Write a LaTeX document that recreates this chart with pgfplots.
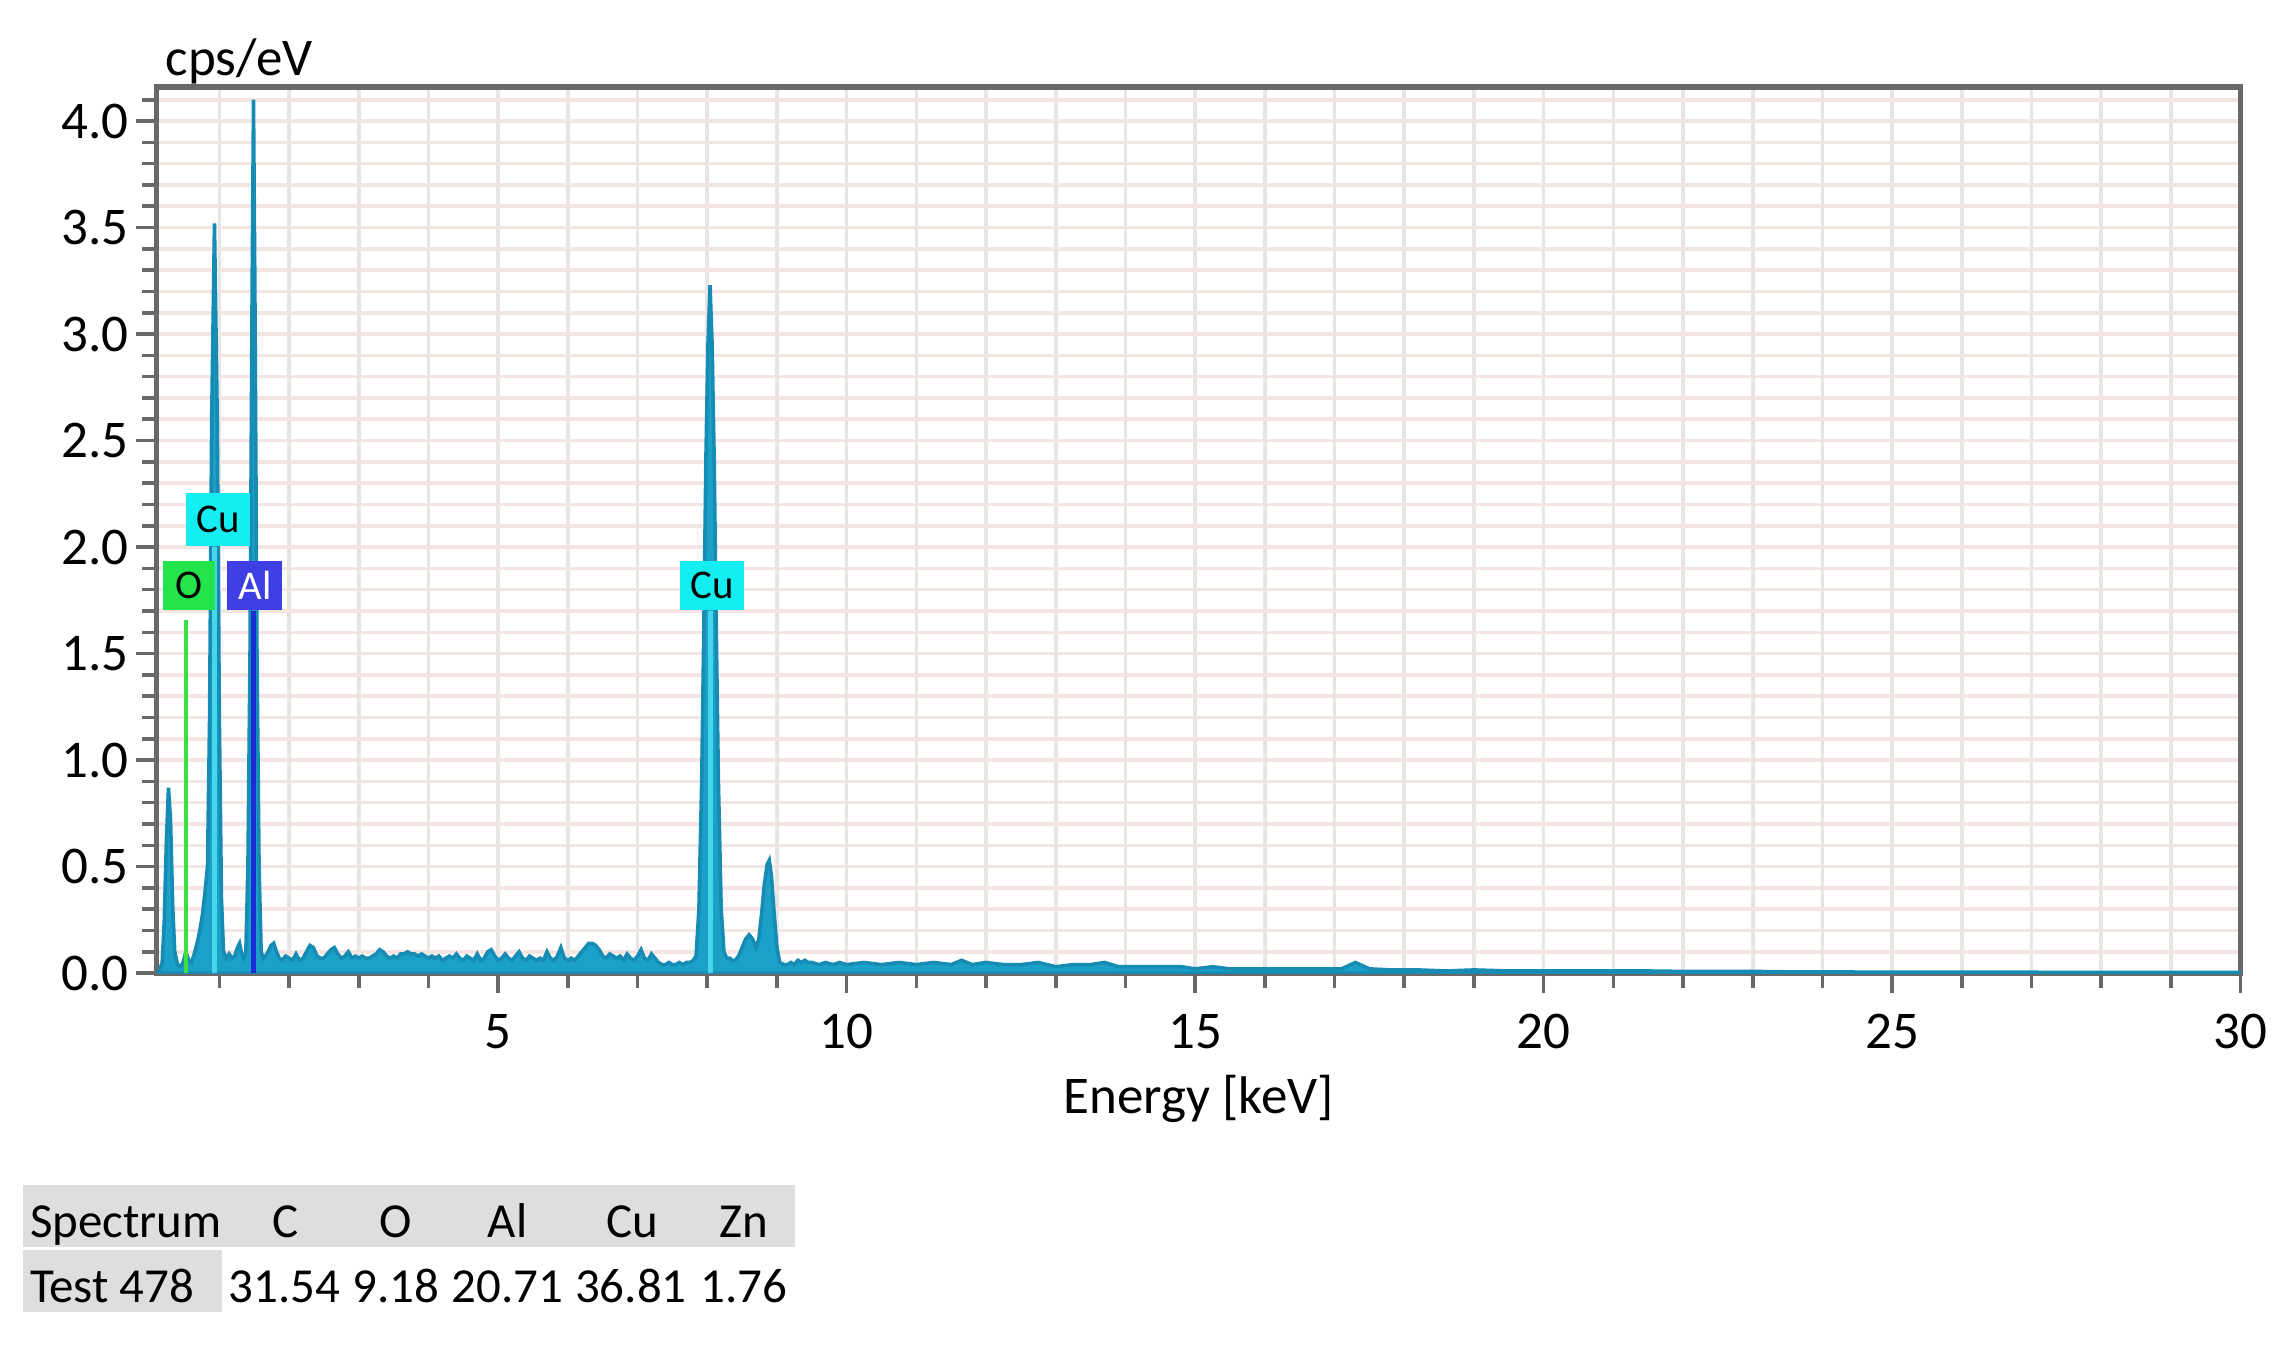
\documentclass[border=0pt]{standalone}
\usepackage{fontspec}
\setmainfont{Carlito}
\usepackage{pgfplots}
\pgfplotsset{compat=1.18}

\definecolor{spec}{RGB}{27,161,200}
\definecolor{specedge}{RGB}{22,140,180}
\definecolor{culine}{RGB}{70,215,235}
\definecolor{alline}{RGB}{25,45,215}
\definecolor{oline}{RGB}{60,225,60}
\definecolor{tagO}{RGB}{35,228,75}
\definecolor{tagAl}{RGB}{62,62,228}
\definecolor{tagCu}{RGB}{20,238,240}
\definecolor{gridx}{RGB}{232,230,228}
\definecolor{gridy}{RGB}{243,229,225}
\definecolor{axisgray}{RGB}{105,105,105}
\definecolor{tblgray}{RGB}{222,222,222}

\begin{document}
\begin{tikzpicture}
\useasboundingbox (-10.8mm,-25.9mm) rectangle (146.0mm,67.1mm);
\begin{axis}[
  scale only axis, width=143.7mm, height=61.1mm,
  xmin=0.1, xmax=30, ymin=0, ymax=4.16,
  xtick={5,10,...,30},
  minor xtick={1,2,3,4,6,7,8,9,11,12,13,14,16,17,18,19,21,22,23,24,26,27,28,29},
  ytick={0,0.5,...,4.0},
  minor ytick={0.1,0.2,0.3,0.4,0.6,0.7,0.8,0.9,1.1,1.2,1.3,1.4,1.6,1.7,1.8,1.9,2.1,2.2,2.3,2.4,2.6,2.7,2.8,2.9,3.1,3.2,3.3,3.4,3.6,3.7,3.8,3.9,4.1},
  tick pos=left, tick align=outside,
  major tick length=1.4mm, minor tick length=1mm,
  every tick/.style={draw=axisgray, line width=0.7pt},
  grid=both,
  x grid style={draw=gridx, line width=0.7pt},
  y grid style={draw=gridy, line width=0.7pt},
  axis line style={draw=axisgray, line width=1pt},
  tick label style={font=\fontsize{10.4}{12}\selectfont},
  /pgf/number format/assume math mode=true,
  yticklabel style={/pgf/number format/.cd, fixed, fixed zerofill, precision=1, /tikz/.cd, xshift=0.7mm},
  xticklabel style={yshift=-0.2mm},
  xlabel={Energy [keV]},
  xlabel style={font=\fontsize{10.4}{12}\selectfont, at={(rel axis cs:0.5,0)}, anchor=base, yshift=-9.7mm},
  ylabel={cps/eV},
  ylabel style={font=\fontsize{10.4}{12}\selectfont, rotate=-90, at={(rel axis cs:0,1)}, anchor=base west, xshift=-0.6mm, yshift=0.8mm},
]
% spectrum
\addplot[draw=specedge, line width=0.7pt, fill=spec] table {
0.10 0.00
0.14 0.01
0.18 0.05
0.21 0.25
0.24 0.62
0.27 0.87
0.30 0.72
0.33 0.32
0.36 0.10
0.40 0.04
0.44 0.03
0.48 0.05
0.52 0.10
0.56 0.06
0.60 0.05
0.64 0.09
0.68 0.14
0.72 0.20
0.76 0.28
0.80 0.40
0.83 0.50
0.86 1.20
0.89 2.60
0.93 3.52
0.97 2.60
1.00 1.20
1.03 0.35
1.06 0.10
1.10 0.07
1.14 0.09
1.18 0.07
1.22 0.08
1.26 0.12
1.29 0.14
1.32 0.09
1.35 0.07
1.38 0.10
1.41 0.50
1.44 1.50
1.47 3.20
1.49 4.10
1.51 3.20
1.54 1.50
1.57 0.50
1.60 0.10
1.63 0.07
1.66 0.08
1.70 0.10
1.74 0.13
1.78 0.14
1.82 0.10
1.86 0.07
1.90 0.06
1.95 0.08
2.00 0.07
2.05 0.06
2.10 0.09
2.15 0.06
2.20 0.07
2.25 0.10
2.30 0.13
2.35 0.12
2.40 0.08
2.45 0.07
2.50 0.07
2.55 0.09
2.60 0.11
2.65 0.12
2.70 0.09
2.75 0.07
2.80 0.08
2.85 0.10
2.90 0.07
2.95 0.08
3.00 0.07
3.05 0.08
3.10 0.07
3.15 0.07
3.20 0.08
3.25 0.09
3.30 0.11
3.35 0.10
3.40 0.08
3.45 0.07
3.50 0.08
3.55 0.07
3.60 0.09
3.65 0.09
3.70 0.10
3.75 0.09
3.80 0.09
3.85 0.08
3.90 0.09
3.95 0.08
4.00 0.07
4.05 0.08
4.10 0.07
4.15 0.08
4.20 0.06
4.25 0.07
4.30 0.08
4.35 0.07
4.40 0.09
4.45 0.07
4.50 0.06
4.55 0.08
4.60 0.07
4.65 0.06
4.70 0.09
4.75 0.06
4.80 0.07
4.85 0.10
4.90 0.11
4.95 0.08
5.00 0.06
5.05 0.07
5.10 0.09
5.15 0.07
5.20 0.06
5.25 0.08
5.30 0.10
5.35 0.07
5.40 0.06
5.45 0.08
5.50 0.07
5.55 0.06
5.60 0.07
5.65 0.06
5.70 0.10
5.75 0.07
5.80 0.06
5.85 0.08
5.90 0.12
5.95 0.07
6.00 0.06
6.05 0.07
6.10 0.06
6.15 0.08
6.20 0.10
6.25 0.12
6.30 0.14
6.35 0.14
6.40 0.13
6.45 0.11
6.50 0.08
6.55 0.07
6.60 0.09
6.65 0.08
6.70 0.07
6.75 0.08
6.80 0.06
6.85 0.09
6.90 0.07
6.95 0.06
7.00 0.08
7.05 0.11
7.10 0.07
7.15 0.06
7.20 0.09
7.25 0.07
7.30 0.05
7.35 0.04
7.40 0.04
7.45 0.05
7.50 0.04
7.55 0.04
7.60 0.05
7.65 0.04
7.70 0.05
7.75 0.05
7.80 0.06
7.84 0.08
7.88 0.30
7.92 0.90
7.95 1.60
7.98 2.40
8.01 2.95
8.04 3.23
8.07 2.95
8.10 2.40
8.13 1.60
8.16 0.90
8.20 0.30
8.24 0.10
8.28 0.07
8.32 0.07
8.36 0.06
8.40 0.06
8.45 0.08
8.50 0.12
8.55 0.16
8.60 0.18
8.65 0.16
8.70 0.12
8.74 0.16
8.78 0.28
8.82 0.42
8.86 0.51
8.89 0.53
8.92 0.46
8.96 0.28
9.00 0.12
9.04 0.05
9.10 0.04
9.15 0.04
9.20 0.05
9.25 0.04
9.30 0.06
9.35 0.05
9.40 0.06
9.45 0.05
9.50 0.05
9.60 0.04
9.70 0.05
9.80 0.04
9.90 0.05
10.00 0.04
10.25 0.05
10.50 0.04
10.75 0.05
11.00 0.04
11.25 0.05
11.50 0.04
11.65 0.06
11.80 0.04
12.00 0.05
12.25 0.04
12.50 0.04
12.75 0.05
13.00 0.03
13.25 0.04
13.50 0.04
13.70 0.05
13.90 0.03
14.20 0.03
14.50 0.03
14.80 0.03
15.00 0.02
15.25 0.03
15.50 0.02
15.75 0.02
16.00 0.02
16.30 0.02
16.60 0.02
16.90 0.02
17.10 0.02
17.30 0.05
17.50 0.02
17.80 0.015
18.20 0.015
18.60 0.01
19.00 0.015
19.50 0.01
20.00 0.01
20.50 0.01
21.00 0.01
21.50 0.01
22.00 0.008
22.50 0.008
23.00 0.008
23.50 0.006
24.00 0.006
24.50 0.005
25.00 0.005
26.00 0.004
27.00 0.004
28.00 0.003
29.00 0.003
30.00 0.003
} \closedcycle;
% element marker lines
\addplot[draw=oline, line width=0.8pt] coordinates {(0.525,0) (0.525,1.66)};
\addplot[draw=culine, line width=0.9pt] coordinates {(0.93,0) (0.93,2.0)};
\addplot[draw=alline, line width=0.9pt] coordinates {(1.49,0) (1.49,1.70)};
\addplot[draw=culine, line width=0.9pt] coordinates {(8.05,0) (8.05,1.70)};
% element tags
\node[fill=tagCu, minimum width=4.4mm, minimum height=3.6mm, inner sep=0pt, font=\fontsize{8}{9}\selectfont] at (axis cs:0.98,2.13) {Cu};
\node[fill=tagO, minimum width=3.6mm, minimum height=3.4mm, inner sep=0pt, font=\fontsize{8}{9}\selectfont] at (axis cs:0.57,1.82) {O};
\node[fill=tagAl, text=white, minimum width=3.8mm, minimum height=3.4mm, inner sep=0pt, font=\fontsize{8}{9}\selectfont] at (axis cs:1.51,1.82) {Al};
\node[fill=tagCu, minimum width=4.4mm, minimum height=3.4mm, inner sep=0pt, font=\fontsize{8}{9}\selectfont] at (axis cs:8.07,1.82) {Cu};
\end{axis}
% composition table
\fill[tblgray] (-9.2mm,-14.6mm) rectangle (44.0mm,-18.9mm);
\fill[tblgray] (-9.2mm,-19.1mm) rectangle (4.5mm,-23.4mm);
\begin{scope}[every node/.style={font=\fontsize{9.6}{11}\selectfont, inner sep=0pt}]
\node[anchor=base west] at (-8.8mm,-18.2mm) {Spectrum};
\node[anchor=base] at (8.9mm,-18.2mm) {C};
\node[anchor=base] at (16.5mm,-18.2mm) {O};
\node[anchor=base] at (24.2mm,-18.2mm) {Al};
\node[anchor=base] at (32.8mm,-18.2mm) {Cu};
\node[anchor=base] at (40.5mm,-18.2mm) {Zn};
\node[anchor=base west] at (-8.8mm,-22.7mm) {Test 478};
\node[anchor=base] at (8.8mm,-22.7mm) {31.54};
\node[anchor=base] at (16.5mm,-22.7mm) {9.18};
\node[anchor=base] at (24.2mm,-22.7mm) {20.71};
\node[anchor=base] at (32.7mm,-22.7mm) {36.81};
\node[anchor=base] at (40.5mm,-22.7mm) {1.76};
\end{scope}
\end{tikzpicture}
\end{document}
